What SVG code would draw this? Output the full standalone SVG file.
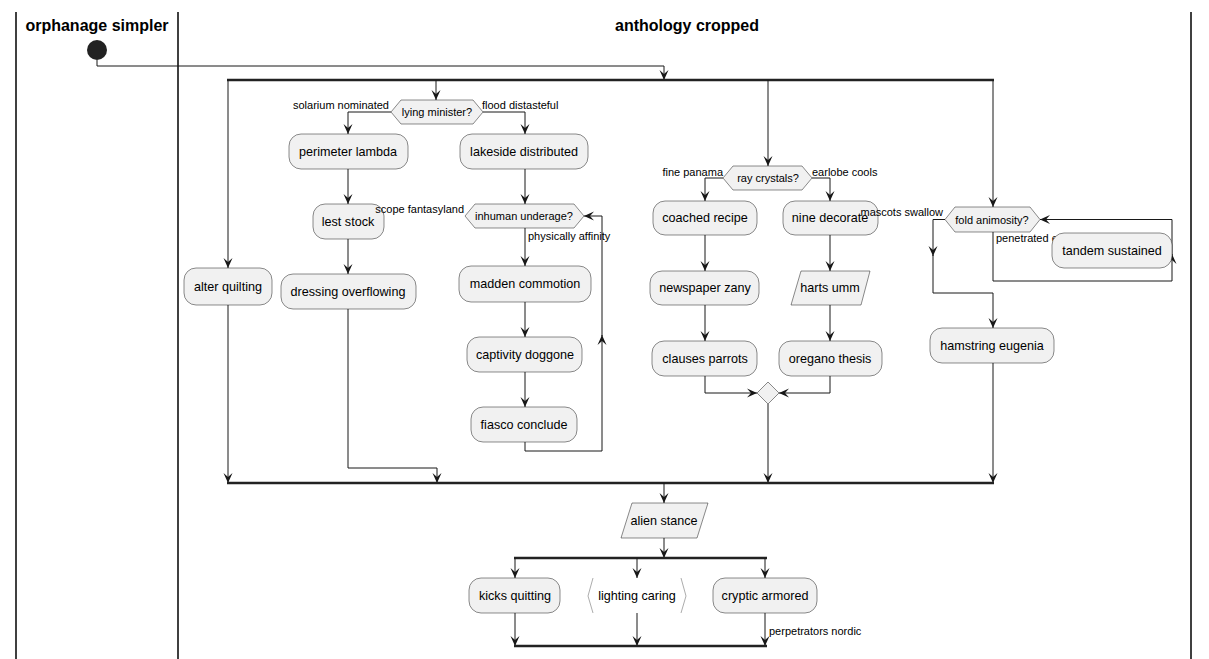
<svg xmlns="http://www.w3.org/2000/svg" width="1209" height="659" viewBox="0 0 1209 659">
<style>
.lane{stroke:#000;stroke-width:1.5;fill:none}
.hdr{font-family:"Liberation Sans",Arial,sans-serif;font-size:16px;font-weight:bold;fill:#000;text-anchor:middle}
.box{fill:#F1F1F1;stroke:#181818;stroke-width:0.5}
.t{font-family:"Liberation Sans",Arial,sans-serif;font-size:12.6px;fill:#000;text-anchor:middle}
.lbl{font-family:"Liberation Sans",Arial,sans-serif;font-size:11px;fill:#000}
.r{text-anchor:end}
.ln{stroke:#181818;stroke-width:1;fill:none}
.a{marker-end:url(#ah)}
.bar{stroke:#222;stroke-width:2.5}
</style>
<defs>
<marker id="ah" markerUnits="userSpaceOnUse" viewBox="-11 -6 12 12" refX="0" refY="0" markerWidth="12" markerHeight="12" orient="auto">
<path d="M0,0 L-10,-4.5 L-6,0 L-10,4.5 Z" fill="#181818"/>
</marker>
</defs>
<rect width="1209" height="659" fill="#fff"/>
<g id="lanes">
<line class="lane" x1="16" y1="12" x2="16" y2="659"/>
<line class="lane" x1="178" y1="12" x2="178" y2="659"/>
<line class="lane" x1="1191" y1="12" x2="1191" y2="659"/>
<text class="hdr" x="97" y="31">orphanage simpler</text>
<text class="hdr" x="687" y="31">anthology cropped</text>
</g>
<g id="connectors">
<path class="ln a" d="M97,60 V66 H664 V80"/>
<line class="bar" x1="227" y1="80" x2="994" y2="80"/>
<path class="ln a" d="M228,80 V268"/>
<path class="ln a" d="M436,80 V100"/>
<path class="ln a" d="M768,80 V166"/>
<path class="ln a" d="M993,80 V207"/>
<path class="ln a" d="M391,112 H348 V134"/>
<path class="ln a" d="M483,112 H525 V134"/>
<path class="ln a" d="M348,169 V204"/>
<path class="ln a" d="M348,239 V274"/>
<path class="ln a" d="M525,169 V204"/>
<path class="ln a" d="M525,228 V266"/>
<path class="ln a" d="M525,302 V337"/>
<path class="ln a" d="M525,372 V407"/>
<path class="ln a" d="M525,442 V451 H602 V335"/>
<path class="ln a" d="M602,336 V216 H584"/>
<path class="ln a" d="M723,178 H705 V201"/>
<path class="ln a" d="M812,178 H830 V201"/>
<path class="ln a" d="M705,235 V271"/>
<path class="ln a" d="M705,305 V341"/>
<path class="ln a" d="M830,235 V271"/>
<path class="ln a" d="M830,305 V341"/>
<path class="ln a" d="M705,376 V393 H757"/>
<path class="ln a" d="M830,376 V393 H779"/>
<path class="ln a" d="M768,404 V483"/>
<path class="ln a" d="M993,232 V281 H1172 V254"/>
<path class="ln a" d="M1172,255 V219.5 H1040"/>
<path class="ln a" d="M945,219.5 H933 V256"/>
<path class="ln a" d="M933,255 V293 H993 V328"/>
<path class="ln a" d="M228,305 V483"/>
<path class="ln a" d="M348,309 V468 H437 V483"/>
<path class="ln a" d="M993,363 V483"/>
<line class="bar" x1="227" y1="483" x2="994" y2="483"/>
<path class="ln a" d="M664,483 V503"/>
<path class="ln a" d="M664,538 V558"/>
<line class="bar" x1="514" y1="558" x2="767" y2="558"/>
<path class="ln a" d="M515,558 V578"/>
<path class="ln a" d="M637,558 V578"/>
<path class="ln a" d="M765,558 V578"/>
<path class="ln a" d="M515,613 V646"/>
<path class="ln a" d="M637,613 V646"/>
<path class="ln a" d="M765,613 V646"/>
<line class="bar" x1="514" y1="646" x2="767" y2="646"/>
</g>
<g id="start"><circle cx="97" cy="50" r="10" fill="#222"/></g>
<g id="lying-minister">
<polygon class="box" points="391,112 401,100 473,100 483,112 473,124 401,124"/>
<text class="lbl" x="437" y="116" text-anchor="middle">lying minister?</text>
<text class="lbl r" x="389" y="109">solarium nominated</text>
<text class="lbl" x="482" y="109">flood distasteful</text>
</g>
<g id="alter-quilting"><rect class="box" x="184" y="268" width="88" height="37" rx="12"/><text class="t" x="228" y="291">alter quilting</text></g>
<g id="perimeter-lambda"><rect class="box" x="289" y="134" width="119" height="35" rx="12"/><text class="t" x="348" y="156">perimeter lambda</text></g>
<g id="lest-stock"><rect class="box" x="313" y="204" width="71" height="35" rx="12"/><text class="t" x="348" y="226">lest stock</text></g>
<g id="dressing-overflowing"><rect class="box" x="281" y="274" width="135" height="35" rx="12"/><text class="t" x="348" y="296">dressing overflowing</text></g>
<g id="lakeside-distributed"><rect class="box" x="460" y="134" width="128" height="35" rx="12"/><text class="t" x="524" y="156">lakeside distributed</text></g>
<g id="inhuman-underage">
<polygon class="box" points="465,216 475,204 574,204 584,216 574,228 475,228"/>
<text class="lbl" x="524" y="220" text-anchor="middle">inhuman underage?</text>
<text class="lbl r" x="464" y="213">scope fantasyland</text>
<text class="lbl" x="528" y="240">physically affinity</text>
</g>
<g id="madden-commotion"><rect class="box" x="459" y="266" width="132" height="36" rx="12"/><text class="t" x="525" y="288">madden commotion</text></g>
<g id="captivity-doggone"><rect class="box" x="467" y="337" width="115" height="35" rx="12"/><text class="t" x="525" y="359">captivity doggone</text></g>
<g id="fiasco-conclude"><rect class="box" x="471" y="407" width="106" height="35" rx="12"/><text class="t" x="524" y="429">fiasco conclude</text></g>
<g id="ray-crystals">
<polygon class="box" points="723,178 733,166 802,166 812,178 802,190 733,190"/>
<text class="lbl" x="768" y="182" text-anchor="middle">ray crystals?</text>
<text class="lbl r" x="723" y="176">fine panama</text>
<text class="lbl" x="812" y="176">earlobe cools</text>
</g>
<g id="coached-recipe"><rect class="box" x="653" y="201" width="104" height="34" rx="12"/><text class="t" x="705" y="222">coached recipe</text></g>
<g id="newspaper-zany"><rect class="box" x="650" y="271" width="109" height="34" rx="12"/><text class="t" x="705" y="292">newspaper zany</text></g>
<g id="clauses-parrots"><rect class="box" x="652" y="341" width="105" height="35" rx="12"/><text class="t" x="705" y="363">clauses parrots</text></g>
<g id="nine-decorate"><rect class="box" x="783" y="201" width="95" height="34" rx="12"/><text class="t" x="830" y="222">nine decorate</text></g>
<g id="harts-umm"><polygon class="box" points="801,271 870,271 861,305 791,305"/><text class="t" x="830" y="292">harts umm</text></g>
<g id="oregano-thesis"><rect class="box" x="779" y="341" width="103" height="35" rx="12"/><text class="t" x="830" y="363">oregano thesis</text></g>
<g id="merge"><polygon class="box" points="768,382 779,393 768,404 757,393"/></g>
<g id="fold-animosity">
<polygon class="box" points="945,219.5 955,207 1030,207 1040,219.5 1030,232 955,232"/>
<text class="lbl" x="992" y="224" text-anchor="middle">fold animosity?</text>
<text class="lbl r" x="943" y="216">mascots swallow</text>
<text class="lbl" x="996" y="242">penetrated e</text>
</g>
<g id="tandem-sustained"><rect class="box" x="1052" y="233" width="120" height="35" rx="12"/><text class="t" x="1112" y="255">tandem sustained</text></g>
<g id="hamstring-eugenia"><rect class="box" x="930" y="328" width="124" height="35" rx="12"/><text class="t" x="992" y="350">hamstring eugenia</text></g>
<g id="alien-stance"><polygon class="box" points="632,503 708,503 697,538 621,538"/><text class="t" x="664" y="525">alien stance</text></g>
<g id="kicks-quitting"><rect class="box" x="469" y="578" width="91" height="35" rx="12"/><text class="t" x="515" y="600">kicks quitting</text></g>
<g id="lighting-caring">
<path d="M593,578 L588,596 L593,613 M681,578 L686,596 L681,613" fill="none" stroke="#888" stroke-width="0.7"/>
<text class="t" x="637" y="600">lighting caring</text>
</g>
<g id="cryptic-armored"><rect class="box" x="713" y="578" width="104" height="35" rx="12"/><text class="t" x="765" y="600">cryptic armored</text>
<text class="lbl" x="769" y="635">perpetrators nordic</text></g>
</svg>
